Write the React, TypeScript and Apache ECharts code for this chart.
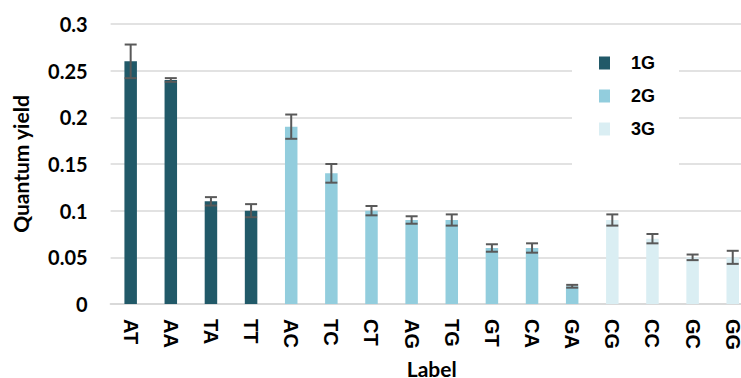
import React, { useEffect, useRef } from "react";
import * as echarts from "echarts";

const categories = ["AT", "AA", "TA", "TT", "AC", "TC", "CT", "AG", "TG", "GT", "CA", "GA", "CG", "CC", "GC", "GG"];
const values = [0.26, 0.24, 0.11, 0.1, 0.19, 0.14, 0.1, 0.09, 0.09, 0.06, 0.06, 0.019, 0.09, 0.07, 0.05, 0.05];
const errors = [0.018, 0.002, 0.0045, 0.007, 0.013, 0.01, 0.005, 0.004, 0.006, 0.004, 0.005, 0.0015, 0.006, 0.005, 0.003, 0.007];
const groupOf = ["1G", "1G", "1G", "1G", "2G", "2G", "2G", "2G", "2G", "2G", "2G", "2G", "3G", "3G", "3G", "3G"];
const legendNames = ["1G", "2G", "3G"];
const colors = ["#215968", "#92CDDD", "#DAEEF3"];

export default function App() {
  const ref = useRef<HTMLDivElement>(null);
  useEffect(() => {
    if (!ref.current) return;
    const chart = echarts.init(ref.current, undefined, { renderer: "svg" });
    const barSeries = legendNames.map((name, gi) => ({
      name,
      type: "bar",
      barWidth: 12.5,
      barGap: "-100%",
      itemStyle: { color: colors[gi] },
      data: values.map((v, i) => (groupOf[i] === name ? v : "-")),
      z: 2,
    }));
    const errData = values.map((v, i) => [i, v - errors[i], v + errors[i]]);
    chart.setOption({
      animation: false,
      grid: { left: 110.6, right: 1.2, top: 24, bottom: 74, outerBoundsMode: "none", containLabel: false },
      legend: {
        data: legendNames,
        orient: "vertical",
        left: 572,
        top: 46,
        padding: [8, 24, 30, 27],
        backgroundColor: "#ffffff",
        itemWidth: 11,
        itemHeight: 13,
        itemGap: 15,
        icon: "rect",
        textStyle: {
          fontFamily: "Liberation Sans",
          fontWeight: "bold",
          fontSize: 18,
          color: "#000",
          padding: [0, 0, 0, 16],
        },
      },
      xAxis: {
        type: "category",
        data: categories,
        name: "Label",
        nameLocation: "middle",
        nameGap: 53,
        nameTextStyle: { fontFamily: "Lato", fontWeight: "bold", fontSize: 21, lineHeight: 18, color: "#000" },
        axisLine: { lineStyle: { color: "#d9d9d9", width: 2 } },
        axisTick: { show: false },
        axisLabel: {
          rotate: -90,
          margin: 15,
          interval: 0,
          fontFamily: "Liberation Sans",
          fontWeight: "bold",
          fontSize: 20,
          lineHeight: 15,
          color: "#000",
        },
      },
      yAxis: {
        type: "value",
        min: 0,
        max: 0.3,
        interval: 0.05,
        name: "Quantum yield",
        nameLocation: "middle",
        nameGap: 80,
        nameTextStyle: { fontFamily: "Lato", fontWeight: "bold", fontSize: 21, color: "#000" },
        axisLine: { show: false },
        axisTick: { show: false },
        splitLine: { lineStyle: { color: "#d9d9d9", width: 1.5 } },
        axisLabel: {
          margin: 23,
          fontFamily: "Lato",
          fontWeight: "bold",
          fontSize: 20,
          color: "#000",
        },
      },
      series: [
        ...barSeries,
        {
          type: "custom",
          name: "err",
          z: 5,
          renderItem: (params: any, api: any) => {
            const x = api.value(0);
            const lo = api.coord([x, api.value(1)]);
            const hi = api.coord([x, api.value(2)]);
            const hw = 6;
            const style = { stroke: "#595959", lineWidth: 2 };
            return {
              type: "group",
              children: [
                { type: "line", shape: { x1: lo[0], y1: lo[1], x2: hi[0], y2: hi[1] }, style },
                { type: "line", shape: { x1: lo[0] - hw, y1: lo[1], x2: lo[0] + hw, y2: lo[1] }, style },
                { type: "line", shape: { x1: hi[0] - hw, y1: hi[1], x2: hi[0] + hw, y2: hi[1] }, style },
              ],
            };
          },
          encode: { x: 0, y: [1, 2] },
          data: errData,
        },
      ],
    });
    return () => chart.dispose();
  }, []);
  return (
    <div style={{ position: "fixed", left: 0, top: 0, width: 741, height: 378, overflow: "hidden", background: "#fff" }}>
      <div ref={ref} style={{ width: 754, height: 378 }} />
    </div>
  );
}
